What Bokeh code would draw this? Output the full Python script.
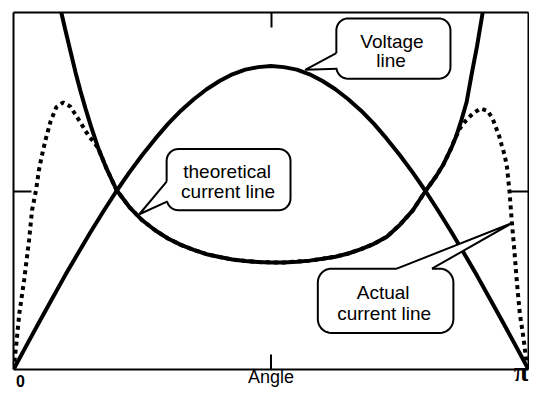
from bokeh.plotting import figure
from bokeh.models import Range1d, LinearAxis, FixedTicker, Span, Grid
from bokeh.core.properties import value
from bokeh.embed import file_html
from bokeh.resources import INLINE
import numpy as np

# ---------------- data (angle as fraction of pi, values as fraction of plot height)
volt_angle = [0.0, 0.025, 0.05, 0.075, 0.1, 0.125, 0.15, 0.175, 0.2, 0.225, 0.25,
              0.275, 0.3, 0.325, 0.35, 0.375, 0.4, 0.425, 0.45, 0.475, 0.5,
              0.525, 0.55, 0.575, 0.6, 0.625, 0.65, 0.675, 0.7, 0.725, 0.75,
              0.775, 0.8, 0.825, 0.85, 0.875, 0.9, 0.925, 0.95, 0.975, 1.0]
voltage = [0.0, 0.067, 0.133, 0.198, 0.263, 0.325, 0.386, 0.444, 0.500, 0.552, 0.601,
           0.646, 0.688, 0.725, 0.757, 0.785, 0.808, 0.827, 0.840, 0.847, 0.850,
           0.847, 0.840, 0.827, 0.808, 0.785, 0.757, 0.725, 0.688, 0.646, 0.601,
           0.552, 0.500, 0.444, 0.386, 0.325, 0.263, 0.198, 0.133, 0.067, 0.0]

theo_angle = [0.0928, 0.10, 0.11, 0.12, 0.13, 0.14, 0.15, 0.165, 0.18, 0.20, 0.225,
              0.25, 0.275, 0.30, 0.325, 0.35, 0.375, 0.40, 0.425, 0.45, 0.475, 0.50,
              0.525, 0.55, 0.575, 0.60, 0.625, 0.65, 0.675, 0.70, 0.725, 0.75,
              0.775, 0.80, 0.82, 0.835, 0.85, 0.86, 0.87, 0.88, 0.89, 0.90, 0.911]
theo_current = [1.0, 0.955, 0.895, 0.835, 0.78, 0.73, 0.683, 0.618, 0.565, 0.503, 0.455,
                0.418, 0.39, 0.367, 0.349, 0.335, 0.323, 0.315, 0.308, 0.304, 0.301, 0.300,
                0.300, 0.302, 0.305, 0.310, 0.316, 0.325, 0.337, 0.352, 0.372, 0.405,
                0.445, 0.50, 0.54, 0.575, 0.62, 0.655, 0.70, 0.75, 0.83, 0.905, 1.0]

act_angle = [0.0, 0.0051, 0.0114, 0.0208, 0.0303, 0.036, 0.0436, 0.0492, 0.0549, 0.0625,
             0.072, 0.0833, 0.0966, 0.110, 0.119, 0.131, 0.140, 0.148, 0.156, 0.165,
             0.18, 0.20, 0.225, 0.25, 0.275, 0.30, 0.325, 0.35, 0.375, 0.40, 0.425,
             0.45, 0.475, 0.50, 0.525, 0.55, 0.575, 0.60, 0.625, 0.65, 0.675, 0.70,
             0.725, 0.75, 0.775, 0.80, 0.82, 0.835, 0.85, 0.856, 0.867, 0.879, 0.892,
             0.907, 0.920, 0.930, 0.936, 0.943, 0.948, 0.953, 0.958, 0.963, 0.968,
             0.972, 0.977, 0.983, 0.9905, 0.996, 1.0]
act_current = [0.0, 0.066, 0.158, 0.252, 0.363, 0.446, 0.501, 0.557, 0.598, 0.645,
               0.695, 0.735, 0.748, 0.737, 0.717, 0.690, 0.668, 0.650, 0.638, 0.618,
               0.565, 0.503, 0.455, 0.418, 0.39, 0.367, 0.349, 0.335, 0.323, 0.315, 0.308,
               0.304, 0.301, 0.300, 0.300, 0.302, 0.305, 0.310, 0.316, 0.325, 0.337, 0.352,
               0.372, 0.405, 0.445, 0.50, 0.54, 0.575, 0.62, 0.643, 0.676, 0.698, 0.717,
               0.731, 0.725, 0.704, 0.681, 0.654, 0.628, 0.604, 0.57, 0.50, 0.407,
               0.343, 0.252, 0.158, 0.086, 0.02, 0.0]

tick_positions = [0.0, 0.5, 1.0]
tick_labels = ["0", "Angle", "π"]

# ---------------- figure (frame extends below y=0 to hold the bottom labels)
Y_LOW = -0.0532
LABEL_Y = -0.048
p = figure(width=529, height=389, x_range=Range1d(0, 1), y_range=Range1d(Y_LOW, 1),
           output_backend="svg", toolbar_location=None,
           x_axis_location=None, y_axis_location=None,
           min_border_left=13, min_border_right=1, min_border_top=12, min_border_bottom=1)
p.outline_line_color = None
p.background_fill_color = "white"
p.border_fill_color = "white"
for g in p.select(Grid):
    g.visible = False


def mk_axis(ticks, tin):
    return LinearAxis(ticker=FixedTicker(ticks=ticks), major_tick_in=tin, major_tick_out=0,
                      bounds=(0, 1), major_label_overrides={t: "" for t in ticks},
                      minor_tick_line_color=None, axis_line_width=2, major_tick_line_width=2,
                      axis_line_color="black", major_tick_line_color="black",
                      major_label_text_font_size="0px", major_label_standoff=0)


p.add_layout(mk_axis([0.5], 18), "left")
p.add_layout(mk_axis([0.5], 18), "right")
p.add_layout(mk_axis([0.5], 15), "above")
# bottom edge of the plot box and its middle tick
p.add_layout(Span(location=0, dimension="width", line_color="black", line_width=2))
p.segment(x0=[tick_positions[1]], y0=[0], x1=[tick_positions[1]], y1=[15 / 357.0],
          line_color="black", line_width=2)

# curves
p.line(volt_angle, voltage, line_color="black", line_width=4)
p.line(act_angle, act_current, line_color="black", line_width=4, line_dash="4 4")
p.line(theo_angle, theo_current, line_color="black", line_width=4)

# ---------------- callouts (geometry in reference pixels -> data)
def fx(x):
    return (x - 14) / 528.0


def fy(y):
    return (374 - y) / 361.0


def rbox(x0, y0, x1, y1, r, n=10):
    xs, ys = [], []
    for cx, cy, a0, a1 in [(x1 - r, y0 + r, -90, 0), (x1 - r, y1 - r, 0, 90),
                           (x0 + r, y1 - r, 90, 180), (x0 + r, y0 + r, 180, 270)]:
        for a in np.linspace(np.radians(a0), np.radians(a1), n):
            xs.append(fx(cx + r * np.cos(a)))
            ys.append(fy(cy + r * np.sin(a)))
    return xs, ys


def callout(box, r, b1, tip, b2, inward):
    xs, ys = rbox(*box, r)
    p.patch(xs, ys, fill_color="white", line_color="black", line_width=2)
    dx, dy = inward
    qx = [b1[0], tip[0], b2[0], b2[0] + dx, b1[0] + dx]
    qy = [b1[1], tip[1], b2[1], b2[1] + dy, b1[1] + dy]
    p.patch([fx(v) for v in qx], [fy(v) for v in qy], fill_color="white", line_color=None)
    p.line([fx(b1[0]), fx(tip[0]), fx(b2[0])], [fy(b1[1]), fy(tip[1]), fy(b2[1])],
           line_color="black", line_width=2)


callout((345, 19, 462, 80), 12, (345, 54), (313, 71), (346, 70), (4, 0))
callout((171, 151, 298, 213), 12, (171, 184), (143, 217), (172, 204), (4, 0))
callout((326, 272, 465, 337), 14, (407, 272), (525, 226), (443, 272), (0, 4))

txt_x = [402, 401, 233, 234, 393, 394]
txt_y = [42, 62, 174, 194, 296, 317]
txt = ["Voltage", "line", "theoretical", "current line", "Actual", "current line"]
p.text(x=[fx(v) for v in txt_x], y=[fy(v) for v in txt_y], text=txt,
       text_font=value("Liberation Sans"), text_font_size="19px",
       text_align="center", text_baseline="alphabetic", text_color="black")

# bottom labels (inside the extended frame, below y=0)
p.text(x=[fx(21)], y=[LABEL_Y], text=[tick_labels[0]],
       text_font=value("Liberation Sans"), text_font_style="bold",
       text_font_size="16px", text_align="center", text_baseline="bottom")
p.text(x=[tick_positions[1]], y=[LABEL_Y], text=[tick_labels[1]],
       text_font=value("Liberation Sans"), text_font_size="18px",
       text_align="center", text_baseline="bottom")
p.text(x=[tick_positions[2]], y=[LABEL_Y], text=[tick_labels[2]],
       text_font=value("Liberation Serif"), text_font_style="bold",
       text_font_size="27px", text_align="right", text_baseline="bottom")

open("out.html", "w").write(file_html(p, INLINE))
